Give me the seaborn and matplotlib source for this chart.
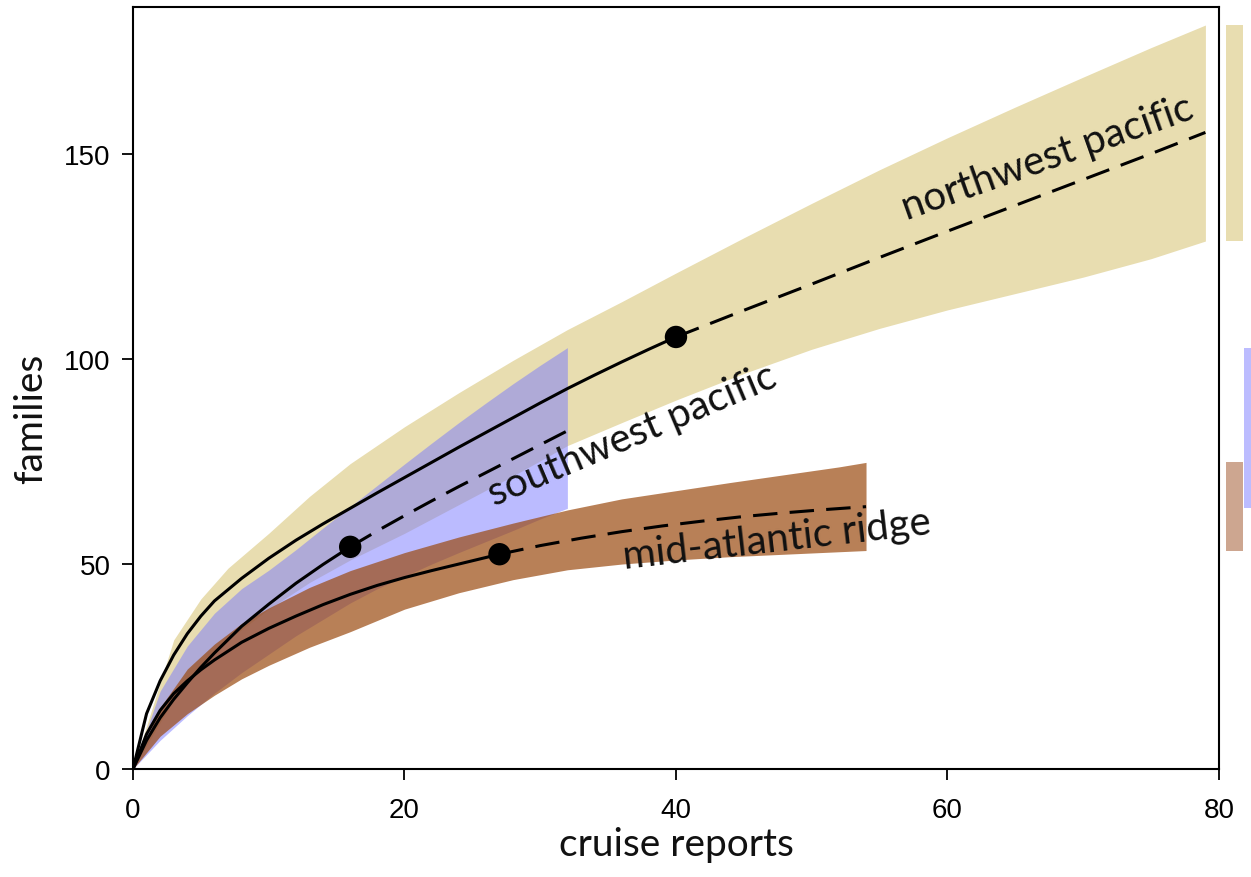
import matplotlib
matplotlib.use("Agg")
import matplotlib.pyplot as plt
import numpy as np
import pandas as pd
import seaborn as sns

# ---------------- data ----------------
# northwest pacific
nw_obs_x = [0, 1, 2, 3, 4, 5, 6, 8, 10, 12, 14, 16, 18, 20, 22, 24, 26, 28, 30, 32, 34, 36, 38, 40]
nw_obs_y = [0, 13.5, 21.5, 27.8, 33, 37.3, 41, 46.5, 51.4, 55.8, 59.8, 63.6, 67.4, 71.1, 74.8,
            78.5, 82.1, 85.7, 89.3, 92.8, 96.1, 99.3, 102.4, 105.4]
nw_ext_x = [40, 45, 50, 55, 60, 65, 70, 75, 79]
nw_ext_y = [105.4, 111.9, 118.3, 124.8, 131.2, 137.5, 143.8, 150.1, 155.3]
nw_band_x = [0, 3, 5, 7, 10, 13, 16, 20, 24, 28, 32, 36, 40, 45, 50, 55, 60, 65, 70, 75, 79]
nw_band_hi = [0, 31.5, 41.5, 49, 57.5, 66.5, 74.5, 83.5, 91.8, 99.7, 107.2, 114, 121, 129.6,
              138, 146.2, 154, 161.5, 168.8, 176, 181.5]
nw_band_lo = [0, 17, 25, 31.5, 39, 45.5, 51, 57.5, 64.5, 71.5, 78.9, 84.5, 90, 96.5, 102.4,
              107.5, 112, 116, 120, 124.5, 128.8]

# southwest pacific
sw_obs_x = [0, 1, 2, 3, 4, 5, 6, 8, 10, 12, 14, 16]
sw_obs_y = [0, 7, 12.5, 17, 21, 24.8, 28.3, 34.8, 40.2, 45.3, 49.9, 54.2]
sw_ext_x = [16, 18, 20, 22, 24, 26, 28, 30, 32]
sw_ext_y = [54.2, 58.1, 61.8, 65.4, 68.9, 72.3, 75.7, 79.1, 82.5]
sw_band_x = [0, 2, 4, 6, 8, 10, 12, 14, 16, 18, 20, 22, 24, 26, 28, 30, 32]
sw_band_hi = [0, 19, 30, 38, 44, 48.5, 53.5, 58.8, 64, 69.2, 74.4, 79.5, 84.5, 89.3, 94, 98.5, 102.8]
sw_band_lo = [0, 7, 13, 18.5, 23.5, 28, 32.5, 36.5, 40.5, 44, 47, 50, 52.8, 55.5, 58.2, 61, 63.6]

# mid-atlantic ridge
ma_obs_x = [0, 1, 2, 3, 4, 5, 6, 8, 10, 12, 14, 16, 18, 20, 22, 24, 26, 27]
ma_obs_y = [0, 8.5, 14.3, 18.4, 21.5, 24.2, 26.6, 30.9, 34.3, 37.3, 40.1, 42.6, 44.8, 46.7,
            48.4, 50, 51.6, 52.4]
ma_ext_x = [27, 30, 33, 36, 39, 42, 45, 48, 51, 54]
ma_ext_y = [52.4, 54.5, 56.3, 57.9, 59.3, 60.5, 61.6, 62.5, 63.3, 64.0]
ma_band_x = [0, 2, 4, 6, 8, 10, 13, 16, 20, 24, 28, 32, 36, 40, 44, 48, 52, 54]
ma_band_hi = [0, 15, 24.4, 30.5, 35.5, 39.3, 44.3, 48.4, 52.8, 56.6, 60, 63.2, 65.9, 67.9,
              69.9, 71.8, 73.7, 74.8]
ma_band_lo = [0, 8, 13.5, 18, 22, 25.3, 29.7, 33.5, 39, 43, 46.2, 48.6, 50, 51, 51.8, 52.4, 53, 53.3]

ref_x = [40, 16, 27]
ref_y = [105.4, 54.2, 52.4]

region_labels = ["northwest pacific", "southwest pacific", "mid-atlantic ridge"]

x_ticks = [0, 20, 40, 60, 80]
y_ticks = [0, 50, 100, 150]

# ---------------- styling ----------------
sns.set_theme(style="ticks")
plt.rcParams["font.family"] = ["Liberation Sans", "DejaVu Sans"]

TAN = "#E8DDB0"
LAV = "#7878FF"
BRN = "#9B4A10"
LW = 2.2
LABEL_FAMILY = ["Lato", "DejaVu Sans"]

fig = plt.figure(figsize=(12.51, 8.78), dpi=100)
ax = fig.add_axes([0.1063, 0.1230, 0.8681, 0.8679])

# bands
ax.fill_between(nw_band_x, nw_band_lo, nw_band_hi, color=TAN, lw=0, zorder=1)
ax.fill_between(sw_band_x, sw_band_lo, sw_band_hi, color=LAV, alpha=0.5, lw=0, zorder=2)
ax.fill_between(ma_band_x, ma_band_lo, ma_band_hi, color=BRN, alpha=0.7, lw=0, zorder=3)

# end-range bars outside the frame
bar_specs = [
    (81.15, nw_band_lo[-1], nw_band_hi[-1], "#E8DDB0"),
    (82.5, sw_band_lo[-1], sw_band_hi[-1], "#BCBCFF"),
    (81.15, ma_band_lo[-1], ma_band_hi[-1], "#CDA690"),
]
for bx, lo, hi, c in bar_specs:
    ax.bar([bx], [hi - lo], bottom=[lo], width=1.3, color=c, lw=0, clip_on=False, zorder=1)

# curves
for ox, oy, ex, ey in [(nw_obs_x, nw_obs_y, nw_ext_x, nw_ext_y),
                       (sw_obs_x, sw_obs_y, sw_ext_x, sw_ext_y),
                       (ma_obs_x, ma_obs_y, ma_ext_x, ma_ext_y)]:
    sns.lineplot(x=ox, y=oy, ax=ax, color="black", lw=LW, estimator=None, sort=False, zorder=5)
    sns.lineplot(x=ex, y=ey, ax=ax, color="black", lw=LW, estimator=None, sort=False, zorder=5)
    ax.lines[-1].set_dashes([8, 4])

sns.scatterplot(x=ref_x, y=ref_y, ax=ax, color="black", s=260, edgecolor="none", zorder=6)

# labels on curves
lab_font = dict(family=LABEL_FAMILY, fontsize=29, fontweight="normal", color="#111111",
                ha="left", va="baseline", rotation_mode="anchor", zorder=7)
ax.text(57.0, 134.2, region_labels[0], rotation=19.5, **lab_font)
ax.text(26.6, 64.2, region_labels[1], rotation=23, **lab_font)
ax.text(36.2, 49.0, region_labels[2], rotation=6.5, **lab_font)

ax.set_xlim(0, 80)
ax.set_ylim(0, 185.9)
ax.set_xticks(x_ticks)
ax.set_yticks(y_ticks)
ax.tick_params(direction="out", length=8, width=1.3, labelsize=20, color="black", labelcolor="black")
ax.tick_params(axis="x", pad=12)
ax.tick_params(axis="y", pad=8)
for s in ax.spines.values():
    s.set_linewidth(1.5)
    s.set_color("black")
    s.set_visible(True)

ax.set_xlabel("cruise reports", family=LABEL_FAMILY, fontsize=28, fontweight="normal",
              color="#111111", labelpad=2)
ax.set_ylabel("families", family=LABEL_FAMILY, fontsize=28, fontweight="normal",
              color="#111111")
ax.yaxis.set_label_coords(-0.077, 0.4606)

fig.savefig("out.png", dpi=100)
